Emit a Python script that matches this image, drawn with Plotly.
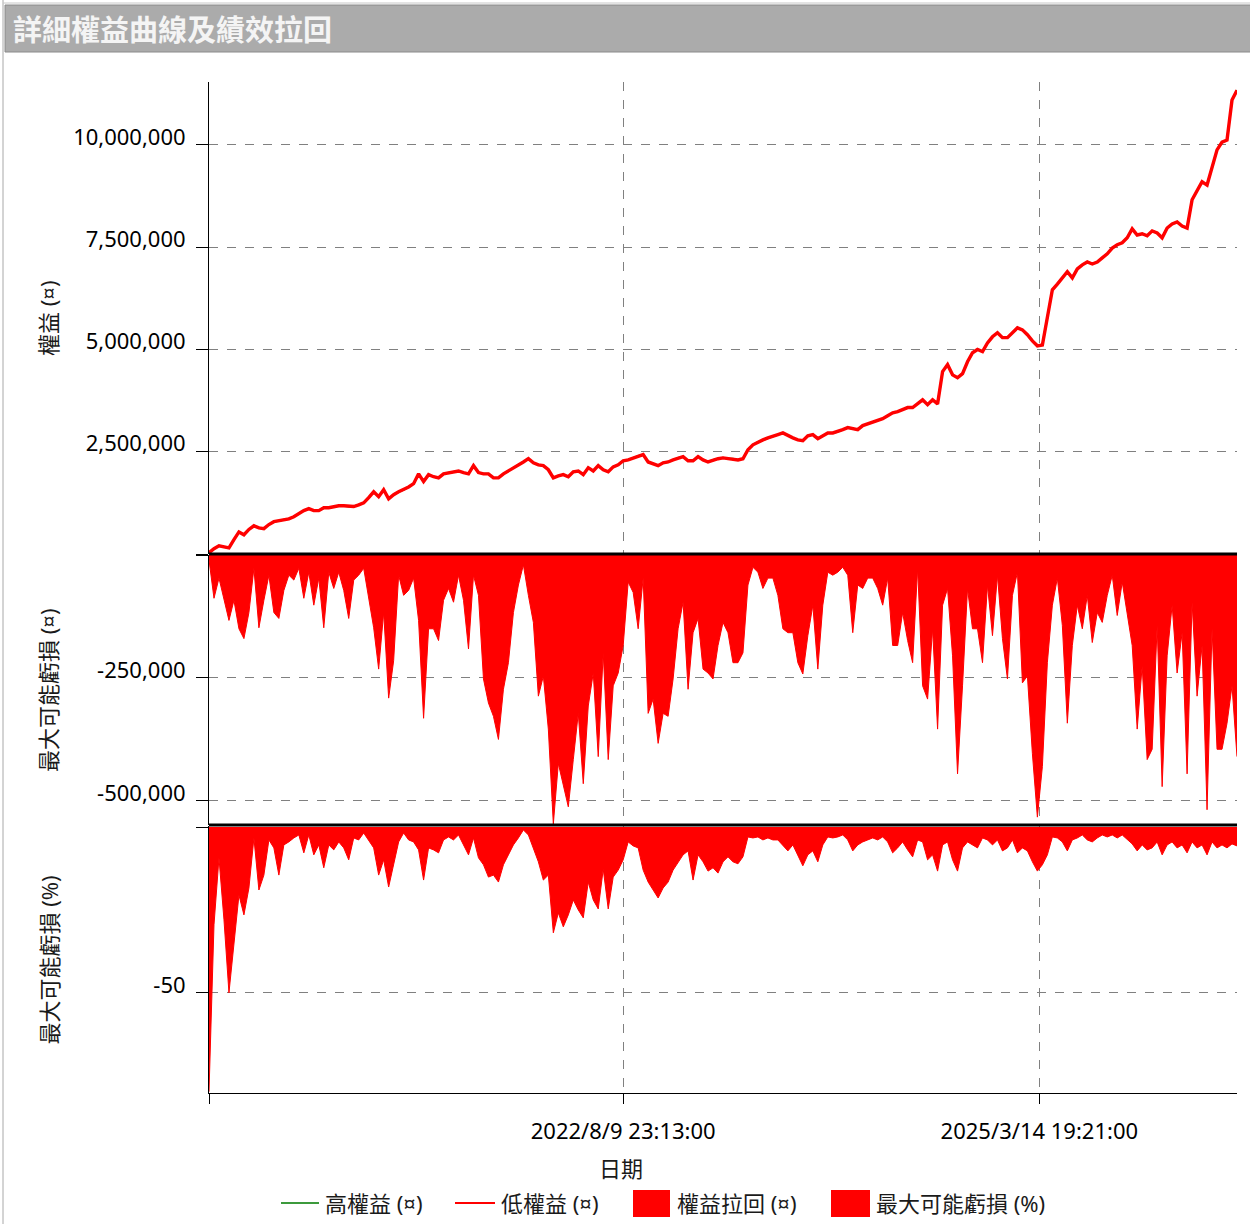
import pandas as pd
import plotly.graph_objects as go

W, H = 1250, 1224
FONT = "Noto Sans, Noto Sans CJK TC, sans-serif"

# ---------------- data ----------------
start_date = "2020-01-09 16:00"
end_date = "2026-06-08 00:00"
tick_dates = ["2022-08-09 23:13:00", "2025-03-14 19:21:00"]
tick_text = ["2022/8/9 23:13:00", "2025/3/14 19:21:00"]

equity = [
    30000, 130000, 200000, 180000, 150000, 350000, 540000, 470000, 600000, 690000,
    640000, 620000, 720000, 790000, 810000, 840000, 860000, 910000, 985000, 1060000,
    1110000, 1060000, 1060000, 1130000, 1130000, 1160000, 1180000, 1180000, 1160000, 1160000,
    1200000, 1250000, 1380000, 1520000, 1400000, 1570000, 1350000, 1450000, 1520000, 1570000,
    1640000, 1720000, 1960000, 1770000, 1940000, 1890000, 1860000, 1960000, 1990000, 2010000,
    2030000, 1990000, 1960000, 2160000, 1990000, 1960000, 1960000, 1860000, 1860000, 1960000,
    2030000, 2110000, 2160000, 2250000, 2330000, 2230000, 2180000, 2160000, 2060000, 1860000,
    1910000, 1940000, 1890000, 2010000, 2030000, 1940000, 2110000, 2030000, 2160000, 2060000,
    2010000, 2130000, 2180000, 2280000, 2300000, 2350000, 2400000, 2430000, 2250000, 2210000,
    2160000, 2230000, 2250000, 2300000, 2350000, 2380000, 2280000, 2280000, 2380000, 2300000,
    2250000, 2300000, 2330000, 2350000, 2330000, 2330000, 2300000, 2330000, 2550000, 2670000,
    2740000, 2790000, 2840000, 2870000, 2920000, 2960000, 2890000, 2840000, 2790000, 2770000,
    2890000, 2920000, 2820000, 2890000, 2960000, 2960000, 2990000, 3040000, 3090000, 3060000,
    3040000, 3140000, 3180000, 3210000, 3260000, 3310000, 3380000, 3450000, 3480000, 3530000,
    3580000, 3580000, 3670000, 3770000, 3650000, 3770000, 3670000, 4460000, 4630000, 4380000,
    4310000, 4410000, 4700000, 4920000, 5000000, 4950000, 5160000, 5310000, 5410000, 5290000,
    5290000, 5410000, 5530000, 5480000, 5360000, 5210000, 5090000, 5110000, 5770000, 6460000,
    6600000, 6750000, 6900000, 6750000, 6970000, 7070000, 7140000, 7090000, 7140000, 7240000,
    7340000, 7480000, 7560000, 7610000, 7730000, 7950000, 7800000, 7830000, 7780000, 7900000,
    7850000, 7730000, 7970000, 8070000, 8120000, 8020000, 7970000, 8660000, 8900000, 9100000,
    9020000, 9440000, 9880000, 10070000, 10120000, 11100000, 11340000,
]

drawdown = [
    -10000, -88000, -47000, -88000, -133000, -92000, -150000, -170000, -117000, -27000,
    -148000, -92000, -41000, -117000, -129000, -72000, -41000, -51000, -27000, -88000,
    -35000, -102000, -47000, -148000, -35000, -68000, -35000, -72000, -129000, -51000,
    -41000, -27000, -92000, -148000, -232000, -117000, -291000, -215000, -41000, -82000,
    -72000, -47000, -133000, -332000, -150000, -150000, -174000, -92000, -68000, -96000,
    -41000, -92000, -191000, -41000, -82000, -252000, -301000, -328000, -375000, -273000,
    -219000, -117000, -61000, -20000, -82000, -137000, -287000, -246000, -354000, -547000,
    -424000, -465000, -512000, -416000, -322000, -465000, -307000, -240000, -410000, -199000,
    -416000, -266000, -240000, -184000, -55000, -76000, -150000, -47000, -322000, -293000,
    -383000, -322000, -328000, -252000, -150000, -96000, -273000, -158000, -129000, -232000,
    -240000, -252000, -184000, -137000, -158000, -219000, -219000, -199000, -61000, -25000,
    -35000, -68000, -47000, -47000, -82000, -150000, -158000, -158000, -219000, -242000,
    -164000, -102000, -232000, -102000, -35000, -41000, -35000, -25000, -41000, -158000,
    -61000, -68000, -47000, -47000, -68000, -102000, -47000, -184000, -184000, -117000,
    -174000, -219000, -27000, -266000, -293000, -150000, -354000, -102000, -68000, -205000,
    -445000, -266000, -68000, -150000, -150000, -219000, -61000, -164000, -41000, -170000,
    -252000, -82000, -35000, -260000, -246000, -404000, -533000, -430000, -219000, -102000,
    -47000, -143000, -342000, -184000, -102000, -150000, -82000, -178000, -117000, -137000,
    -82000, -41000, -123000, -55000, -117000, -184000, -354000, -225000, -416000, -395000,
    -143000, -471000, -205000, -102000, -240000, -158000, -445000, -96000, -287000, -184000,
    -518000, -150000, -395000, -395000, -342000, -266000, -410000,
]

drawdown_pct = [
    -79.8, -29.5, -9.3, -28.0, -50.0, -35.5, -20.5, -26.5, -18.4, -3.3,
    -19.0, -14.5, -3.9, -6.3, -14.5, -5.4, -4.5, -3.3, -2.4, -7.8,
    -2.4, -8.4, -5.4, -12.3, -5.4, -6.9, -4.5, -6.3, -9.9, -3.3,
    -3.9, -1.8, -3.9, -6.3, -14.5, -9.9, -18.1, -11.4, -4.5, -1.8,
    -3.9, -4.5, -6.9, -16.0, -6.3, -6.9, -7.8, -3.9, -3.0, -3.9,
    -2.4, -5.4, -8.4, -3.3, -9.3, -11.4, -15.1, -14.5, -16.6, -11.4,
    -8.4, -5.4, -3.3, -0.9, -2.4, -6.3, -10.5, -16.0, -14.5, -31.9,
    -25.9, -30.1, -26.5, -22.0, -25.0, -27.4, -16.6, -22.0, -24.7, -12.7,
    -24.7, -15.1, -13.0, -9.9, -4.5, -5.7, -6.3, -13.0, -16.6, -19.0,
    -21.4, -18.4, -16.6, -13.0, -10.5, -8.4, -7.2, -16.0, -8.4, -10.5,
    -13.3, -12.3, -13.9, -10.5, -9.0, -10.5, -11.1, -9.0, -3.0, -3.3,
    -3.0, -3.9, -3.3, -3.9, -3.9, -5.4, -7.2, -5.4, -8.4, -11.7,
    -8.4, -7.2, -10.5, -5.4, -3.0, -3.3, -3.0, -2.4, -3.9, -7.2,
    -5.4, -4.5, -3.9, -3.3, -3.9, -3.0, -4.5, -7.8, -6.3, -4.5,
    -6.9, -9.0, -3.9, -4.5, -9.9, -8.4, -13.3, -5.4, -4.5, -9.9,
    -13.3, -6.3, -4.5, -5.4, -6.3, -3.3, -3.9, -5.4, -3.9, -7.2,
    -6.3, -3.9, -7.8, -6.3, -7.2, -10.5, -13.3, -11.4, -8.4, -3.0,
    -3.3, -4.5, -7.2, -3.9, -3.3, -2.4, -3.9, -4.5, -3.3, -2.4,
    -3.0, -2.4, -3.3, -2.4, -3.9, -5.1, -7.2, -5.4, -6.9, -6.3,
    -4.5, -8.4, -5.4, -4.5, -6.3, -5.4, -7.8, -4.5, -6.3, -5.4,
    -8.4, -4.5, -6.3, -5.4, -6.3, -5.1, -5.7,
]

equity_ticks = [0, 2500000, 5000000, 7500000, 10000000]
dd_ticks = [-500000, -250000, 0]
pct_ticks = [-50, 0]

title_text = "詳細權益曲線及績效拉回"
legend_names = ["高權益 (¤)", "低權益 (¤)", "權益拉回 (¤)", "最大可能虧損 (%)"]
y_titles = ["權益 (¤)", "最大可能虧損 (¤)", "最大可能虧損 (%)"]
x_title = "日期"

RED = "#ff0000"
GREEN = "#3c9a3c"
GRID = "#808080"


def px_x(p):
    return p / W


def px_y(p):
    return 1 - p / H


def fmt(v):
    return "" if v == 0 else f"{v:,.0f}"


# panel pixel extents (top, bottom)
P1 = (82, 554)
P2 = (555, 825)
P3 = (826, 1093)
XL, XR = 209, 1237

dates_eq = pd.date_range(start_date, end_date, periods=len(equity))
dates_dd = pd.date_range(start_date, end_date, periods=len(drawdown))
dates_pct = pd.date_range(start_date, end_date, periods=len(drawdown_pct))

fig = go.Figure()
fig.add_trace(go.Scatter(x=dates_eq, y=equity, mode="lines", name=legend_names[0],
                         line=dict(color=GREEN, width=2), xaxis="x3", yaxis="y3"))
fig.add_trace(go.Scatter(x=dates_eq, y=equity, mode="lines", name=legend_names[1],
                         line=dict(color=RED, width=3.4), xaxis="x3", yaxis="y3"))
fig.add_trace(go.Scatter(x=dates_dd, y=drawdown, mode="lines", name=legend_names[2],
                         fill="tozeroy", fillcolor=RED, line=dict(color=RED, width=1),
                         xaxis="x2", yaxis="y2"))
fig.add_trace(go.Scatter(x=dates_pct, y=drawdown_pct, mode="lines", name=legend_names[3],
                         fill="tozeroy", fillcolor=RED, line=dict(color=RED, width=1),
                         xaxis="x", yaxis="y"))


def yax(panel, rng, tickvals):
    return dict(
        domain=[px_y(panel[1]), px_y(panel[0])], range=rng,
        tickvals=tickvals, ticktext=[fmt(v) for v in tickvals],
        showgrid=True, gridcolor=GRID, griddash="dash", gridwidth=1,
        zeroline=False, showline=True, linecolor="black", linewidth=1,
        ticks="outside", ticklen=12, tickcolor="black", tickwidth=1,
        tickfont=dict(family=FONT, size=22, color="black"),
        ticklabelstandoff=6, ticklabelshift=-8,
        fixedrange=True, automargin=False,
    )


def xax(anchor, bottom):
    d = dict(
        domain=[px_x(XL), px_x(XR)], type="date", range=[start_date, end_date],
        tickvals=[start_date] + tick_dates,
        ticktext=[""] + tick_text,
        showgrid=True, gridcolor=GRID, griddash="dash", gridwidth=1,
        zeroline=False, anchor=anchor, fixedrange=True, automargin=False,
    )
    if bottom:
        d.update(showline=True, linecolor="black", linewidth=1, ticks="outside",
                 ticklen=10, tickcolor="black",
                 tickfont=dict(family=FONT, size=22, color="black"),
                 ticklabelstandoff=9)
    else:
        d.update(showline=False, ticks="", showticklabels=False)
    return d


shapes = []
# outer frame and title bar
shapes.append(dict(type="line", xref="paper", yref="paper", x0=px_x(3), x1=px_x(3),
                   y0=0, y1=1, line=dict(color="#a8a8a8", width=1)))
shapes.append(dict(type="line", xref="paper", yref="paper", x0=px_x(3), x1=1,
                   y0=px_y(3), y1=px_y(3), line=dict(color="#c8c8c8", width=1)))
shapes.append(dict(type="rect", xref="paper", yref="paper", x0=px_x(5), x1=1.01,
                   y0=px_y(52), y1=px_y(5), fillcolor="#ababab",
                   line=dict(color="#8a8a8a", width=1), layer="below"))
# panel separators (zero lines of drawdown panels)
for yy in (554, 825):
    shapes.append(dict(type="line", xref="paper", yref="paper", x0=px_x(XL), x1=px_x(XR),
                       y0=px_y(yy), y1=px_y(yy), line=dict(color="black", width=3)))
# legend symbols
shapes.append(dict(type="line", xref="paper", yref="paper", x0=px_x(281), x1=px_x(319),
                   y0=px_y(1203), y1=px_y(1203), line=dict(color=GREEN, width=2)))
shapes.append(dict(type="line", xref="paper", yref="paper", x0=px_x(455), x1=px_x(495),
                   y0=px_y(1203), y1=px_y(1203), line=dict(color=RED, width=2)))
for x0, x1 in ((633, 670), (831, 870)):
    shapes.append(dict(type="rect", xref="paper", yref="paper", x0=px_x(x0), x1=px_x(x1),
                       y0=px_y(1217), y1=px_y(1190), fillcolor=RED, line=dict(width=0)))

annotations = []
annotations.append(dict(text="<b>" + title_text + "</b>", xref="paper", yref="paper",
                        x=px_x(11), y=px_y(29),
                        xanchor="left", yanchor="middle", showarrow=False,
                        font=dict(family=FONT, size=29, color="#f4f4f4")))
for txt, panel in zip(y_titles, (P1, P2, P3)):
    annotations.append(dict(text=txt, xref="paper", yref="paper", x=px_x(48),
                            y=px_y((panel[0] + panel[1]) / 2), textangle=-90,
                            xanchor="center", yanchor="middle", showarrow=False,
                            font=dict(family=FONT, size=22, color="#1a1a1a")))
annotations.append(dict(text=x_title, xref="paper", yref="paper", x=px_x(621), y=px_y(1168),
                        xanchor="center", yanchor="middle", showarrow=False,
                        font=dict(family=FONT, size=22, color="#1a1a1a")))
for txt, xl in zip(legend_names, (323, 499, 675, 874)):
    annotations.append(dict(text=txt, xref="paper", yref="paper", x=px_x(xl), y=px_y(1203),
                            xanchor="left", yanchor="middle", showarrow=False,
                            font=dict(family=FONT, size=22, color="#1a1a1a")))

fig.update_layout(
    width=W, height=H, autosize=False,
    margin=dict(l=0, r=0, t=0, b=0, pad=0),
    paper_bgcolor="white", plot_bgcolor="white",
    showlegend=False,
    xaxis=xax("y", True),
    xaxis2=xax("y2", False),
    xaxis3=xax("y3", False),
    yaxis=yax(P3, [-80.2, 0.3], pct_ticks),
    yaxis2=yax(P2, [-549000, 0], dd_ticks),
    yaxis3=yax(P1, [0, 11540000], equity_ticks),
    shapes=shapes,
    annotations=annotations,
)

fig.write_html("out.html", config={"displayModeBar": False})
